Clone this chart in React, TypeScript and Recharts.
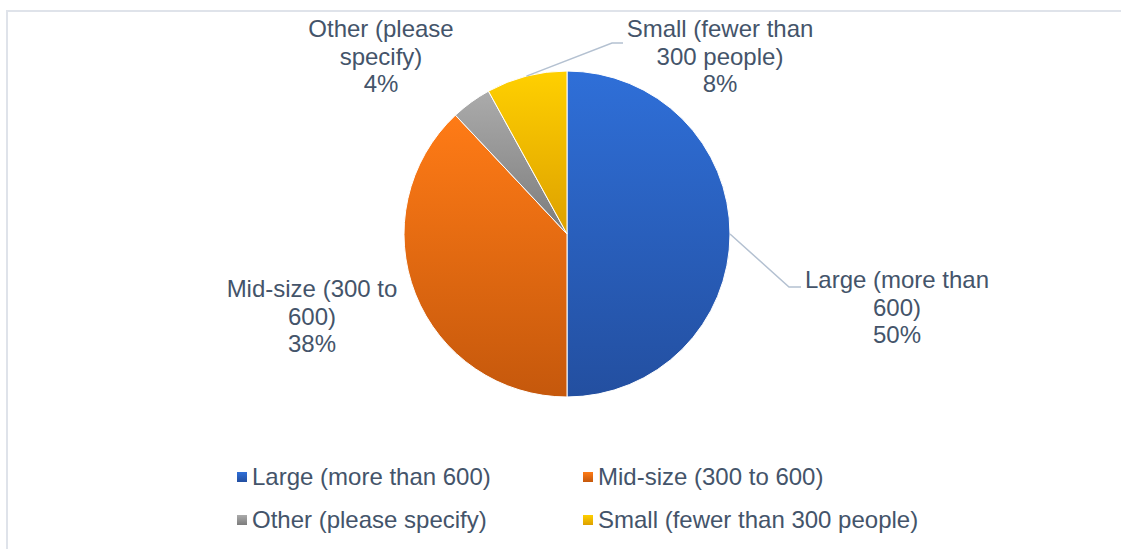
import React from 'react';
import { PieChart, Pie, Cell, Legend } from 'recharts';

const categories = [
  'Large (more than 600)',
  'Mid-size (300 to 600)',
  'Other (please specify)',
  'Small (fewer than 300 people)',
];
const shares = [50, 38, 4, 8];
const wrappedLabels = [
  ['Large (more than', '600)'],
  ['Mid-size (300 to', '600)'],
  ['Other (please', 'specify)'],
  ['Small (fewer than', '300 people)'],
];
const gradientTop = ['#2F6FD8', '#FF7B16', '#ABABAB', '#FFD000'];
const gradientBottom = ['#234FA0', '#C5580C', '#7C7C7C', '#DDA000'];

const data = categories.map((name, i) => ({ name, value: shares[i] }));

const TEXT = '#44546A';
const FONT = '"Liberation Sans", Arial, sans-serif';
const RAD = Math.PI / 180;

// label placement relative to pie centre (Excel "best fit" positions)
const placement: { dx: number; dy: number; leader?: number[][] }[] = [
  { dx: 330, dy: 54, leader: [[222, 53], [234, 53]] },
  { dx: -255, dy: 63 },
  { dx: -186, dy: -197 },
  { dx: 153, dy: -197, leader: [[45, -191], [56, -191]] },
];

const renderLabel = (props: any) => {
  const { cx, cy, midAngle, outerRadius, index, percent } = props;
  const p = placement[index];
  const lines = [...wrappedLabels[index], `${Math.round(percent * 100)}%`];
  let leader = null;
  if (p.leader) {
    const sx = cx + outerRadius * Math.cos(-midAngle * RAD);
    const sy = cy + outerRadius * Math.sin(-midAngle * RAD);
    const pts = [[sx, sy], ...p.leader.map(([a, b]) => [cx + a, cy + b])];
    leader = (
      <polyline
        points={pts.map((q) => q.join(',')).join(' ')}
        fill="none"
        stroke="#B4C1D1"
        strokeWidth={1.5}
      />
    );
  }
  return (
    <g key={`lbl-${index}`}>
      {leader}
      <text
        x={cx + p.dx}
        y={cy + p.dy}
        textAnchor="middle"
        fill={TEXT}
        fontFamily={FONT}
        fontSize={24}
      >
        {lines.map((l, i) => (
          <tspan key={i} x={cx + p.dx} dy={i === 0 ? 0 : 27.7}>
            {l}
          </tspan>
        ))}
      </text>
    </g>
  );
};

const LegendBox = () => (
  <div style={{ fontFamily: FONT, fontSize: 24, color: TEXT, lineHeight: '28px' }}>
    {[0, 1].map((row) => (
      <div key={row} style={{ display: 'flex', height: 43 }}>
        {[0, 1].map((col) => {
          const i = row * 2 + col;
          return (
            <div key={col} style={{ display: 'flex', alignItems: 'center', width: 346, height: 28 }}>
              <div
                style={{
                  width: 10,
                  height: 10,
                  marginRight: 5,
                  background: `linear-gradient(${gradientTop[i]}, ${gradientBottom[i]})`,
                }}
              />
              <span style={{ whiteSpace: 'nowrap' }}>{categories[i]}</span>
            </div>
          );
        })}
      </div>
    ))}
  </div>
);

export default function App() {
  return (
    <div style={{ position: 'relative', width: 1121, height: 549, overflow: 'hidden', background: '#fff' }}>
      <style>{`body{margin:0}`}</style>
      <div
        style={{
          position: 'absolute',
          left: 6,
          top: 10,
          width: 1300,
          height: 700,
          borderLeft: '2px solid #DFE3EA',
          borderTop: '2px solid #DFE3EA',
        }}
      />
      <div style={{ position: 'absolute', left: 0, top: 0 }}>
        <PieChart width={1121} height={549} margin={{ top: 0, right: 0, bottom: 0, left: 0 }}>
          <defs>
            {gradientTop.map((c, i) => (
              <linearGradient key={i} id={`grad${i}`} x1="0" y1="0" x2="0" y2="1">
                <stop offset="0%" stopColor={c} />
                <stop offset="100%" stopColor={gradientBottom[i]} />
              </linearGradient>
            ))}
          </defs>
          <Pie
            data={data}
            dataKey="value"
            nameKey="name"
            cx={567}
            cy={234}
            outerRadius={163}
            startAngle={90}
            endAngle={-270}
            stroke="#FFFFFF"
            strokeWidth={1}
            label={renderLabel}
            labelLine={false}
            isAnimationActive={false}
          >
            {data.map((d, i) => (
              <Cell key={d.name} fill={`url(#grad${i})`} />
            ))}
          </Pie>
          <Legend
            content={() => <LegendBox />}
            wrapperStyle={{ left: 237, top: 463, bottom: 'auto', width: 720, height: 86 }}
          />
        </PieChart>
      </div>
    </div>
  );
}
